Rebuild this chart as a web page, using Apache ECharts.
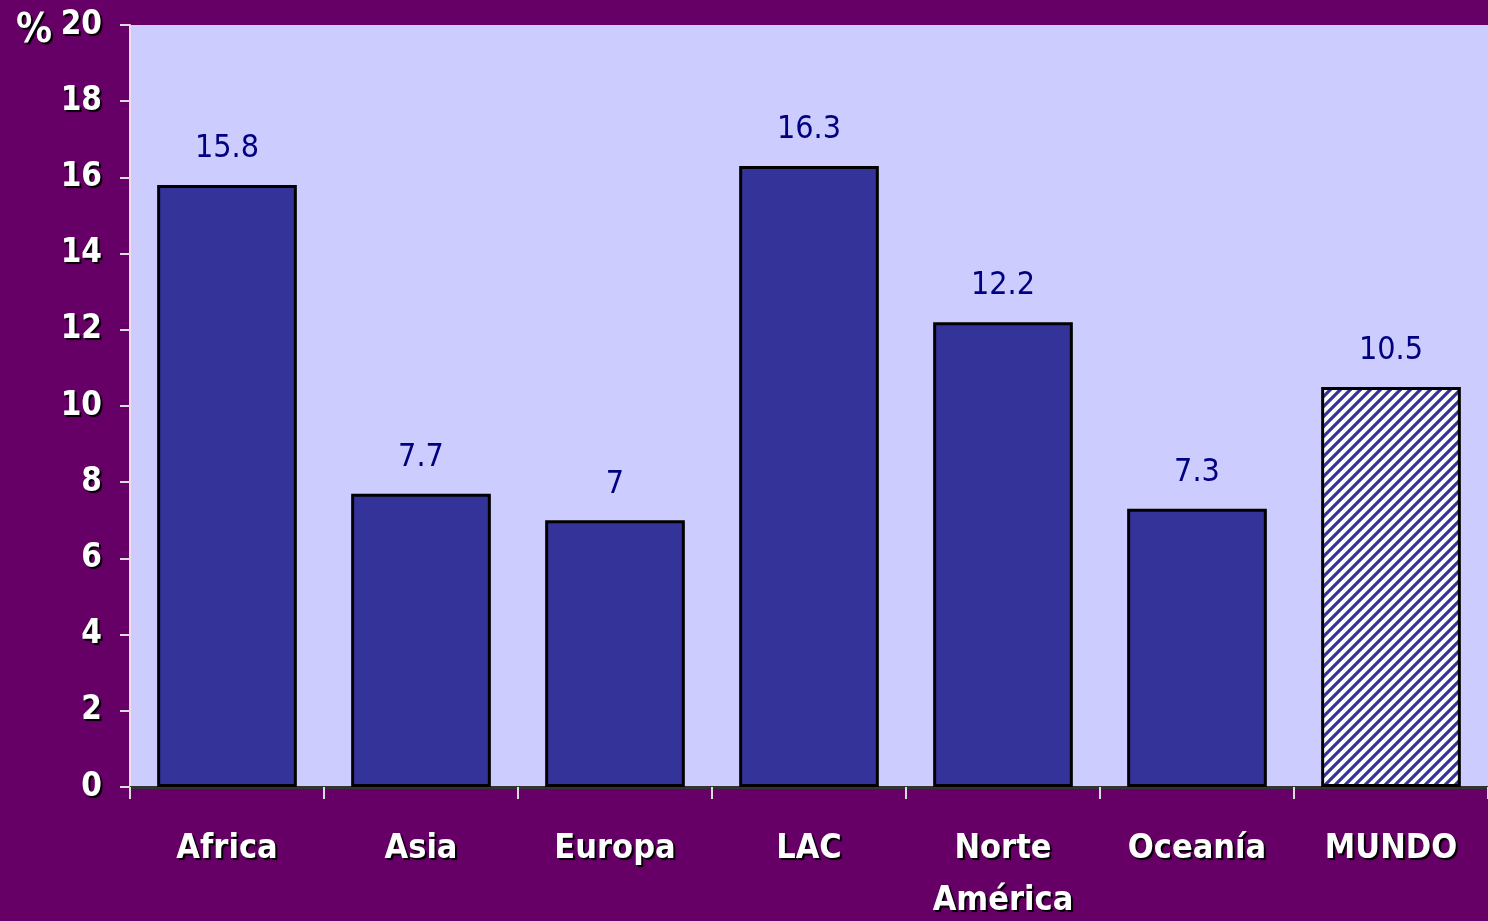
<!DOCTYPE html>
<html>
<head>
<meta charset="utf-8">
<script src="https://cdn.jsdelivr.net/npm/echarts@6/dist/echarts.min.js"></script>
<style>
  html, body { margin: 0; padding: 0; background: #660066; }
  #chart { width: 1488px; height: 921px; }
</style>
</head>
<body>
<div id="chart"></div>
<script>
// Regions and their shares (%)
const categories = ['Africa', 'Asia', 'Europa', 'LAC', 'Norte\nAmérica', 'Oceanía', 'MUNDO'];
const values = [15.8, 7.7, 7, 16.3, 12.2, 7.3, 10.5];
const yTicks = [0, 2, 4, 6, 8, 10, 12, 14, 16, 18, 20];

const FONT = '"DejaVu Sans Condensed", "Liberation Sans Narrow", "Liberation Sans", Arial, sans-serif';

// Diagonal hatch used for the world total bar
function hatchPattern() {
  const c = document.createElement('canvas');
  c.width = 10; c.height = 10;
  const g = c.getContext('2d');
  g.fillStyle = '#ffffff';
  g.fillRect(0, 0, 10, 10);
  g.strokeStyle = '#333399';
  g.lineWidth = 3.2;
  g.beginPath();
  g.moveTo(-5, 5); g.lineTo(5, -5);
  g.moveTo(0, 10); g.lineTo(10, 0);
  g.moveTo(5, 15); g.lineTo(15, 5);
  g.stroke();
  return c;
}

const chart = echarts.init(document.getElementById('chart'));
const shadow = { textShadowColor: '#000000', textShadowOffsetX: 2, textShadowOffsetY: 2, textShadowBlur: 1 };

chart.setOption({
  backgroundColor: '#660066',
  animation: false,
  graphic: [{
    type: 'text',
    left: 16, top: 12,
    style: Object.assign({
      text: '%', fill: '#ffffff', font: 'bold 40px ' + FONT
    }, shadow)
  }],
  grid: {
    left: 130, right: 0, top: 25, bottom: 134,
    outerBoundsMode: 'none', containLabel: false,
    show: true, backgroundColor: '#CCCCFF', borderWidth: 0
  },
  xAxis: {
    type: 'category',
    data: categories,
    axisLine: { show: true, lineStyle: { color: '#333333', width: 3 } },
    axisTick: { show: true, length: 12, lineStyle: { color: '#dddddd', width: 2 } },
    axisLabel: Object.assign({
      color: '#ffffff', fontFamily: FONT, fontWeight: 'bold', fontSize: 34,
      margin: 36, lineHeight: 52, interval: 0
    }, shadow)
  },
  yAxis: {
    type: 'value',
    min: yTicks[0], max: yTicks[yTicks.length - 1], interval: 2,
    splitLine: { show: false },
    axisLine: { show: true, lineStyle: { color: '#eeddee', width: 2 } },
    axisTick: { show: true, length: 10, lineStyle: { color: '#dddddd', width: 2 } },
    axisLabel: Object.assign({
      color: '#ffffff', fontFamily: FONT, fontWeight: 'bold', fontSize: 33, margin: 28
    }, shadow)
  },
  series: [{
    type: 'bar',
    barCategoryGap: '28%',
    data: values.map((v, i) => ({
      value: v,
      itemStyle: i === values.length - 1 ? { color: { image: hatchPattern(), repeat: 'repeat' } } : {}
    })),
    itemStyle: { color: '#333399', borderColor: '#000000', borderWidth: 3 },
    label: {
      show: true, position: 'top', distance: 20,
      color: '#000080', fontFamily: FONT, fontSize: 32
    }
  }]
});
</script>
</body>
</html>
